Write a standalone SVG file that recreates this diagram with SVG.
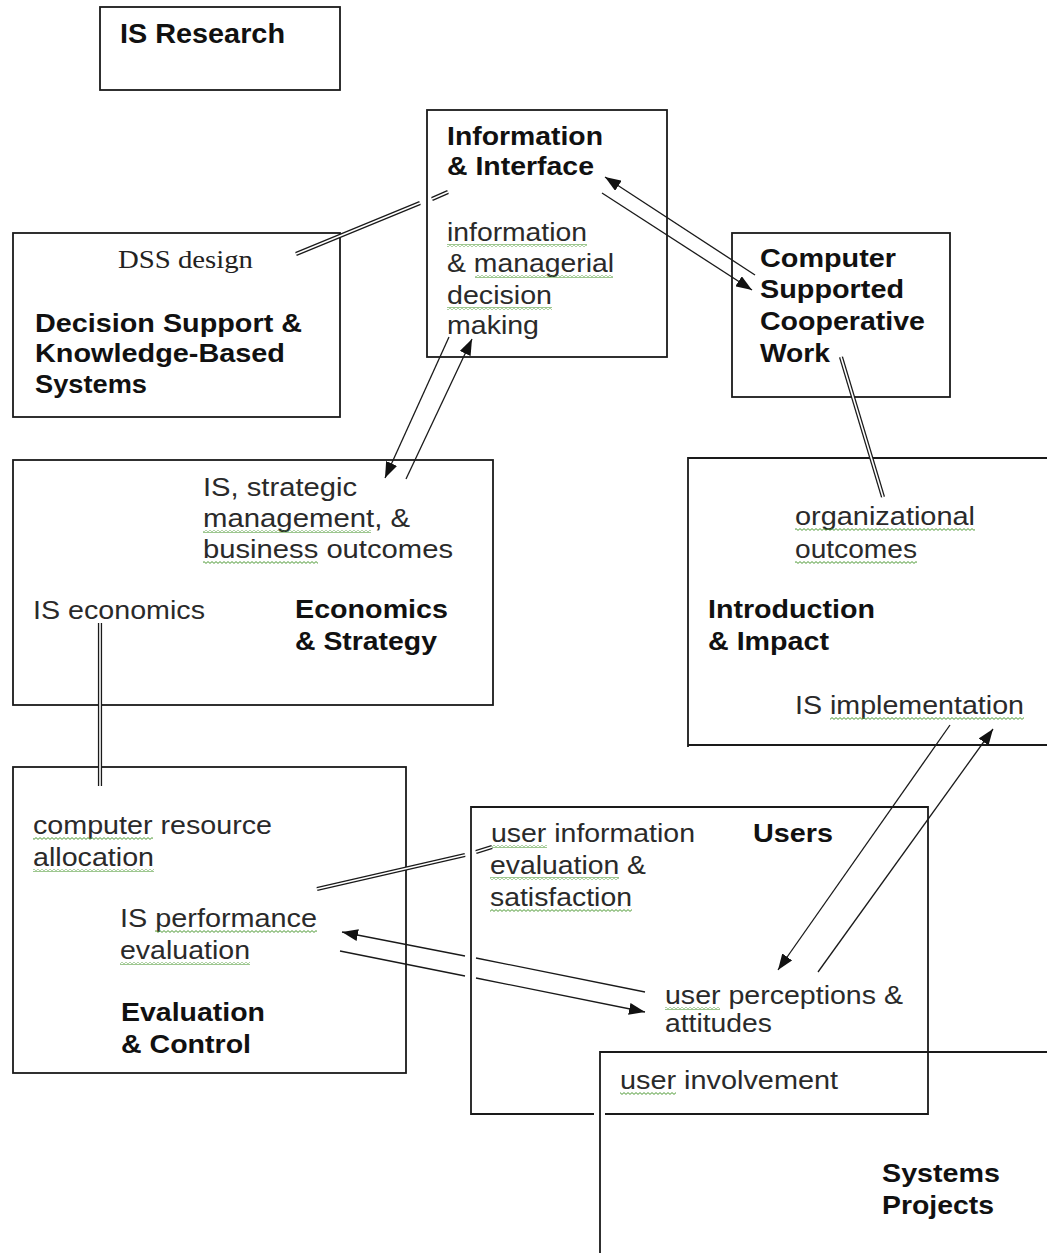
<svg xmlns="http://www.w3.org/2000/svg" width="1047" height="1253" viewBox="0 0 1047 1253">
<style>
.box{fill:none;stroke:#1a1a1a;stroke-width:1.8}
.b{font-family:"Liberation Sans",Arial,sans-serif;font-weight:bold;font-size:26px;fill:#111}
.r{font-family:"Liberation Sans",Arial,sans-serif;font-size:26px;fill:#2a2a2a}
.s{font-family:"Liberation Serif","Times New Roman",serif;font-size:25px;fill:#222}
.ln{fill:none;stroke:#1a1a1a;stroke-width:1.3}
.dbo{fill:none;stroke:#1a1a1a;stroke-width:4.2}
.dbi{fill:none;stroke:#fff;stroke-width:1.6}
.sq{fill:url(#zig)}
</style>
<defs>
<pattern id="zig" width="4" height="3" patternUnits="userSpaceOnUse">
<path d="M0,0.6 L2,2.4 L4,0.6" fill="none" stroke="#4f9a35" stroke-width="1"/>
</pattern>
<marker id="ah" viewBox="0 0 16 12" refX="16" refY="6" markerWidth="16" markerHeight="12" markerUnits="userSpaceOnUse" orient="auto">
<path d="M0,0 L16,6 L0,12 Z" fill="#111"/>
</marker>
</defs>
<rect width="1047" height="1253" fill="#fff"/>

<g id="is-research">
<rect class="box" x="100" y="7" width="240" height="83"/>
<text class="b" x="120" y="43" style="font-size:28px" textLength="165" lengthAdjust="spacingAndGlyphs">IS Research</text>
</g>

<g id="info-interface">
<rect class="box" x="427" y="110" width="240" height="247"/>
<text class="b" x="447" y="145" textLength="156" lengthAdjust="spacingAndGlyphs">Information</text>
<text class="b" x="447" y="175" textLength="147" lengthAdjust="spacingAndGlyphs">&amp; Interface</text>
<text class="r" x="447" y="241" textLength="140" lengthAdjust="spacingAndGlyphs">information</text>
<text class="r" x="447" y="272" textLength="167" lengthAdjust="spacingAndGlyphs">&amp; managerial</text>
<text class="r" x="447" y="304" textLength="105" lengthAdjust="spacingAndGlyphs">decision</text>
<text class="r" x="447" y="334" textLength="92" lengthAdjust="spacingAndGlyphs">making</text>
<rect class="sq" x="447" y="244" width="140" height="3"/>
<rect class="sq" x="475" y="275" width="138" height="3"/>
<rect class="sq" x="447" y="307" width="105" height="3"/>
</g>

<g id="cscw">
<rect class="box" x="732" y="233" width="218" height="164"/>
<text class="b" x="760" y="267" textLength="136" lengthAdjust="spacingAndGlyphs">Computer</text>
<text class="b" x="760" y="298" textLength="144" lengthAdjust="spacingAndGlyphs">Supported</text>
<text class="b" x="760" y="330" textLength="165" lengthAdjust="spacingAndGlyphs">Cooperative</text>
<text class="b" x="760" y="362" textLength="70" lengthAdjust="spacingAndGlyphs">Work</text>
</g>

<g id="dss">
<rect class="box" x="13" y="233" width="327" height="184"/>
<text class="s" x="118" y="268" textLength="135" lengthAdjust="spacingAndGlyphs">DSS design</text>
<text class="b" x="35" y="332" textLength="267" lengthAdjust="spacingAndGlyphs">Decision Support &amp;</text>
<text class="b" x="35" y="362" textLength="250" lengthAdjust="spacingAndGlyphs">Knowledge-Based</text>
<text class="b" x="35" y="393" textLength="112" lengthAdjust="spacingAndGlyphs">Systems</text>
</g>

<g id="economics-strategy">
<rect class="box" x="13" y="460" width="480" height="245"/>
<text class="r" x="203" y="496" textLength="154" lengthAdjust="spacingAndGlyphs">IS, strategic</text>
<text class="r" x="203" y="527" textLength="207" lengthAdjust="spacingAndGlyphs">management, &amp;</text>
<text class="r" x="203" y="558" textLength="250" lengthAdjust="spacingAndGlyphs">business outcomes</text>
<text class="r" x="33" y="619" textLength="172" lengthAdjust="spacingAndGlyphs">IS economics</text>
<text class="b" x="295" y="618" textLength="153" lengthAdjust="spacingAndGlyphs">Economics</text>
<text class="b" x="295" y="650" textLength="142" lengthAdjust="spacingAndGlyphs">&amp; Strategy</text>
<rect class="sq" x="203" y="530" width="168" height="3"/>
<rect class="sq" x="203" y="561" width="115" height="3"/>
</g>

<g id="introduction-impact">
<path class="box" d="M1047,458 H688 V747 M688,745 H1047"/>
<text class="r" x="795" y="525" textLength="180" lengthAdjust="spacingAndGlyphs">organizational</text>
<text class="r" x="795" y="558" textLength="122" lengthAdjust="spacingAndGlyphs">outcomes</text>
<text class="b" x="708" y="618" textLength="167" lengthAdjust="spacingAndGlyphs">Introduction</text>
<text class="b" x="708" y="650" textLength="121" lengthAdjust="spacingAndGlyphs">&amp; Impact</text>
<text class="r" x="795" y="714" textLength="229" lengthAdjust="spacingAndGlyphs">IS implementation</text>
<rect class="sq" x="795" y="528" width="180" height="3"/>
<rect class="sq" x="795" y="561" width="122" height="3"/>
<rect class="sq" x="830" y="717" width="194" height="3"/>
</g>

<g id="evaluation-control">
<rect class="box" x="13" y="767" width="393" height="306"/>
<text class="r" x="33" y="834" textLength="239" lengthAdjust="spacingAndGlyphs">computer resource</text>
<text class="r" x="33" y="866" textLength="121" lengthAdjust="spacingAndGlyphs">allocation</text>
<text class="r" x="120" y="927" textLength="197" lengthAdjust="spacingAndGlyphs">IS performance</text>
<text class="r" x="120" y="959" textLength="130" lengthAdjust="spacingAndGlyphs">evaluation</text>
<text class="b" x="121" y="1021" textLength="144" lengthAdjust="spacingAndGlyphs">Evaluation</text>
<text class="b" x="121" y="1053" textLength="130" lengthAdjust="spacingAndGlyphs">&amp; Control</text>
<rect class="sq" x="33" y="837" width="120" height="3"/>
<rect class="sq" x="33" y="869" width="121" height="3"/>
<rect class="sq" x="155" y="930" width="162" height="3"/>
<rect class="sq" x="120" y="962" width="130" height="3"/>
</g>

<g id="users">
<path class="box" d="M594,1114 H471 V807 H928 V1114 H605"/>
<text class="r" x="491" y="842" textLength="204" lengthAdjust="spacingAndGlyphs">user information</text>
<text class="r" x="490" y="874" textLength="156" lengthAdjust="spacingAndGlyphs">evaluation &amp;</text>
<text class="r" x="490" y="906" textLength="142" lengthAdjust="spacingAndGlyphs">satisfaction</text>
<text class="b" x="753" y="842" textLength="80" lengthAdjust="spacingAndGlyphs">Users</text>
<text class="r" x="665" y="1004" textLength="238" lengthAdjust="spacingAndGlyphs">user perceptions &amp;</text>
<text class="r" x="665" y="1032" textLength="107" lengthAdjust="spacingAndGlyphs">attitudes</text>
<rect class="sq" x="491" y="845" width="56" height="3"/>
<rect class="sq" x="490" y="877" width="129" height="3"/>
<rect class="sq" x="490" y="909" width="142" height="3"/>
<rect class="sq" x="665" y="1007" width="55" height="3"/>
</g>

<g id="systems-projects">
<path class="box" d="M600,1253 V1052 H1047"/>
<text class="r" x="620" y="1089" textLength="218" lengthAdjust="spacingAndGlyphs">user involvement</text>
<rect class="sq" x="620" y="1092" width="56" height="3"/>
<text class="b" x="882" y="1182" textLength="118" lengthAdjust="spacingAndGlyphs">Systems</text>
<text class="b" x="882" y="1214" textLength="112" lengthAdjust="spacingAndGlyphs">Projects</text>
</g>

<g id="connectors">
<path class="dbo" d="M296,254 L420,203 M432,199 L448,192"/>
<path class="dbi" d="M296,254 L420,203 M432,199 L448,192"/>
<path class="dbo" d="M841,357 L883,497"/>
<path class="dbi" d="M841,357 L883,497"/>
<path class="dbo" d="M100,623 L100,786"/>
<path class="dbi" d="M100,623 L100,786"/>
<path class="dbo" d="M317,889 L465,855 M476,852 L492,847"/>
<path class="dbi" d="M317,889 L465,855 M476,852 L492,847"/>

<path class="ln" d="M755,275 L605,177" marker-end="url(#ah)"/>
<path class="ln" d="M602,193 L752,290" marker-end="url(#ah)"/>
<path class="ln" d="M449,337 L385,478" marker-end="url(#ah)"/>
<path class="ln" d="M406,479 L472,339" marker-end="url(#ah)"/>
<path class="ln" d="M645,992 L476,958"/>
<path class="ln" d="M465,956 L342,932" marker-end="url(#ah)"/>
<path class="ln" d="M340,951 L465,976"/>
<path class="ln" d="M476,978 L645,1012" marker-end="url(#ah)"/>
<path class="ln" d="M950,725 L778,970" marker-end="url(#ah)"/>
<path class="ln" d="M818,972 L993,729" marker-end="url(#ah)"/>
</g>
</svg>
